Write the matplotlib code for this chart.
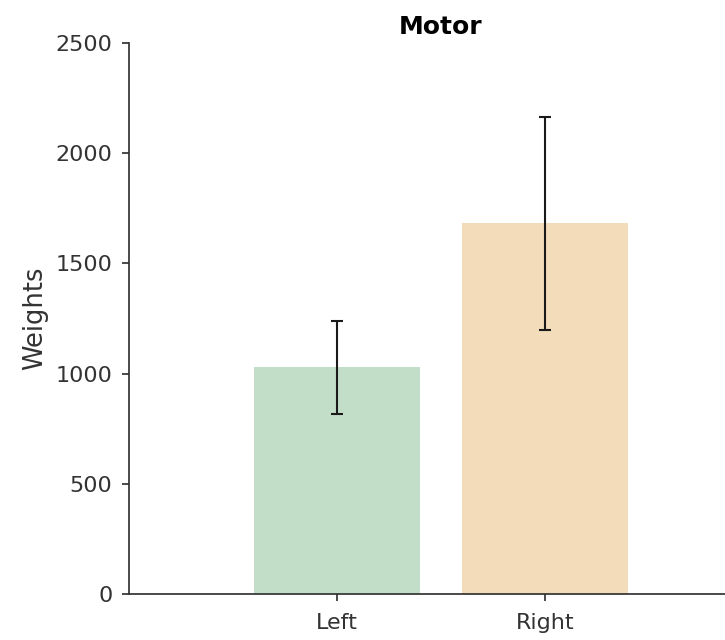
import matplotlib
matplotlib.use("Agg")
import matplotlib.pyplot as plt
import numpy as np

# ── Data ──────────────────────────────────────────────────────────────────────
categories = ["Left", "Right"]
means      = [1030, 1683]
err_low    = [817, 1198]
err_high   = [1239, 2164]
colors     = ["#c3dec8", "#f2dcb9"]

TEXT = "#333333"

fig = plt.figure(figsize=(7.25, 6.4), dpi=100)
# axes run a little past the right edge of the figure (cropped original)
ax = fig.add_axes([129 / 725, 1 - 594 / 640, (753 - 129) / 725, (594 - 43) / 640])

x = np.arange(len(categories))
yerr = np.array([[m - lo for m, lo in zip(means, err_low)],
                 [hi - m for m, hi in zip(means, err_high)]])

ax.bar(x, means, width=0.8, color=colors, zorder=1)
ax.errorbar(x, means, yerr=yerr, fmt="none", ecolor="#1a1a1a",
            elinewidth=1.5, capsize=4, capthick=1.5, zorder=3)

ax.set_xlim(-1.0, 2.0)
ax.set_ylim(0, 2500)
ax.set_xticks(x)
ax.set_xticklabels(categories)
ax.set_yticks([0, 500, 1000, 1500, 2000, 2500])

for s in ("top", "right"):
    ax.spines[s].set_visible(False)
for s in ("left", "bottom"):
    ax.spines[s].set_color(TEXT)
    ax.spines[s].set_linewidth(1.25)

ax.tick_params(axis="both", colors=TEXT, labelsize=16, length=5, width=1.25)
ax.tick_params(axis="y", pad=7)
ax.tick_params(axis="x", pad=9)
ax.set_ylabel("Weights", fontsize=18.5, color=TEXT, labelpad=5)
ax.set_title("Motor", fontsize=18, fontweight="bold", color="black", pad=6.5)

plt.savefig("out.png", dpi=100)
plt.close()
